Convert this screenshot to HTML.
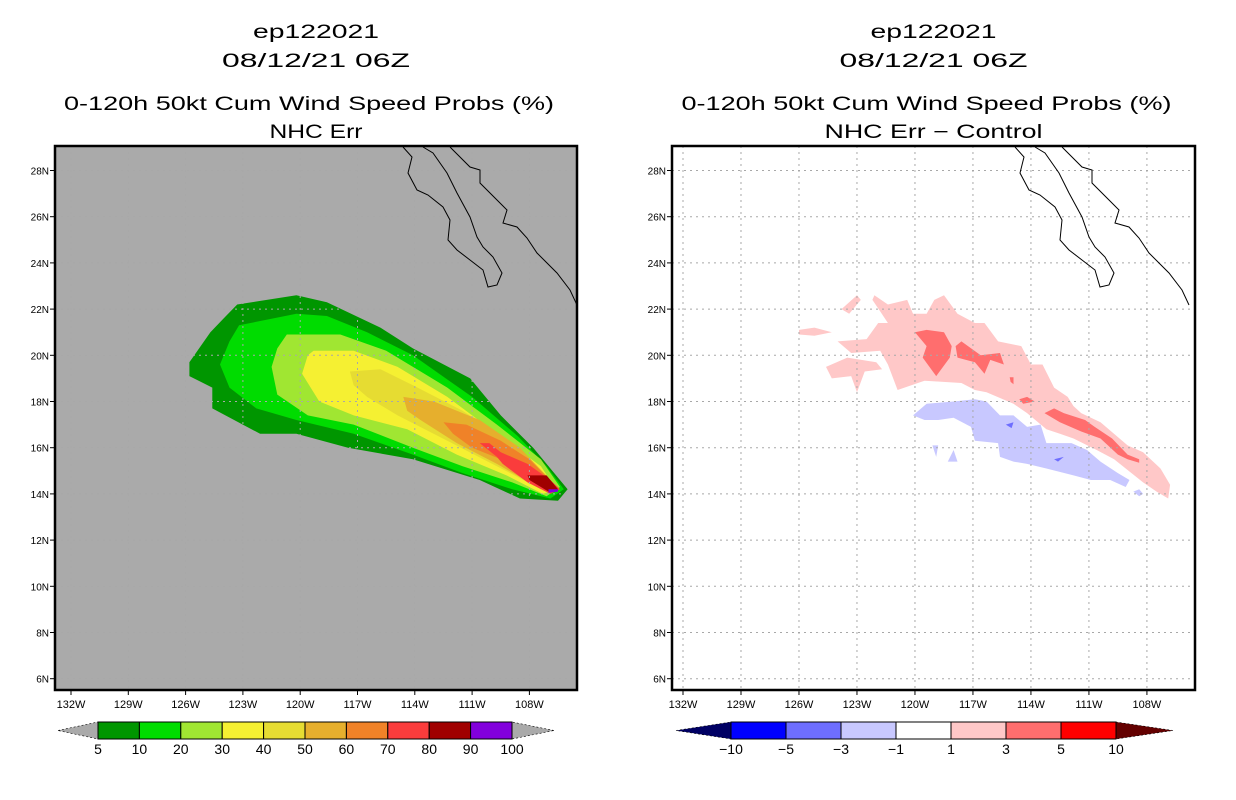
<!DOCTYPE html>
<html><head><meta charset="utf-8">
<style>
html,body{margin:0;padding:0;background:#fff;}
svg{display:block;font-family:"Liberation Sans",sans-serif;}
</style></head>
<body>
<svg id="fig" width="1236" height="800" viewBox="0 0 1236 800" xmlns="http://www.w3.org/2000/svg"></svg>
<script>
// ---------- data ----------
const lonTicks = [132,129,126,123,120,117,114,111,108];
const latTicks = [28,26,24,22,20,18,16,14,12,10,8,6];
const probLevels = ['5','10','20','30','40','50','60','70','80','90','100'];
const probColors = ['#009600','#00dc00','#a0e632','#f5f032','#e6dc32','#e6af2d','#f08228','#fa3c3c','#a00000','#8200dc'];
const diffLevels = ['\u221210','\u22125','\u22123','\u22121','1','3','5','10'];
const diffColors = ['#0000ff','#6e6eff','#c8c8ff','#ffffff','#ffc8c8','#ff6e6e','#ff0000'];
// probability contours (lon W, lat N)
const p5 = [[123.3,22.2],[120.2,22.6],[118.6,22.3],[115.8,21.2],[114.1,20.3],[111.1,19.0],[109.5,17.4],[107.8,16.0],[106.9,15.1],[106.0,14.2],[106.5,13.7],[108.5,13.8],[110.6,14.6],[114.1,15.5],[117.5,16.0],[120.2,16.6],[122.1,16.6],[124.6,17.7],[124.6,18.6],[125.8,19.1],[125.8,19.7],[124.7,21.0],[124.0,21.6]];
const p10 = [[123.2,21.3],[120.2,21.8],[118.6,21.7],[116.5,21.0],[114.1,20.0],[111.0,18.2],[108.6,16.5],[107.1,15.2],[106.2,14.2],[106.9,13.8],[108.9,14.2],[111.5,14.9],[114.1,15.7],[117.2,16.6],[120.2,17.2],[122.3,17.7],[123.7,18.6],[124.2,19.6],[123.7,20.6]];
const p20 = [[120.7,20.9],[117.9,20.9],[115.5,20.2],[112.3,18.6],[109.7,17.0],[107.4,15.5],[106.4,14.3],[107.1,13.9],[108.9,14.5],[111.5,15.2],[114.1,16.0],[117.2,17.0],[119.6,17.4],[121.2,18.3],[121.5,19.5],[121.2,20.3]];
const p30 = [[119.3,20.2],[117.2,20.2],[114.9,19.5],[112.3,18.2],[109.7,16.6],[107.4,15.2],[106.6,14.2],[107.3,14.0],[109.2,14.8],[111.8,15.7],[114.4,16.8],[117.2,17.4],[119.0,18.0],[119.9,19.2],[119.6,20.0]];
const p40 = [[117.4,19.3],[115.8,19.4],[114.1,18.7],[111.5,17.6],[108.9,16.2],[107.1,14.8],[106.8,14.2],[107.4,14.2],[109.7,15.2],[112.3,16.3],[114.9,17.4],[116.5,18.2],[117.2,18.7]];
const p50 = [[114.6,18.2],[113.0,18.0],[110.6,17.2],[108.5,16.0],[106.9,14.6],[106.6,14.2],[107.4,14.2],[109.7,15.3],[111.8,16.2],[113.7,17.2],[114.4,17.6]];
const p60 = [[112.5,17.1],[111.3,17.0],[109.5,16.3],[108.0,15.5],[106.8,14.5],[106.9,14.1],[108.1,14.6],[109.5,15.5],[111.0,16.0],[112.0,16.6]];
const p70 = [[110.6,16.2],[110.1,16.2],[109.5,15.8],[108.1,15.3],[106.9,14.6],[106.4,14.2],[106.9,14.0],[108.1,14.5],[109.4,15.3],[109.7,15.6]];
const p80 = [[108.1,14.8],[107.1,14.8],[106.5,14.2],[107.0,14.1],[108.0,14.6]];
const p90 = [[107.0,14.2],[106.5,14.2],[106.5,14.1],[107.0,14.05]];
const probPolys = [p5,p10,p20,p30,p40,p50,p60,p70,p80,p90];
// difference contours
const dPink1 = [[122.1,22.6],[121.4,22.2],[120.4,22.4],[120.1,21.8],[119.4,21.8],[119.0,22.4],[118.5,22.6],[117.8,21.8],[116.9,21.4],[116.4,21.4],[115.7,20.6],[114.5,20.4],[114.0,19.6],[113.4,19.6],[112.8,18.6],[112.1,18.2],[111.8,17.8],[111.4,17.5],[110.4,17.1],[109.0,16.1],[108.2,15.8],[107.3,15.1],[106.8,14.4],[106.9,13.8],[107.5,14.1],[108.2,14.5],[108.8,14.9],[109.7,15.5],[110.6,15.9],[111.8,16.4],[112.5,16.6],[113.2,16.8],[114.2,17.5],[114.9,17.9],[116.3,18.4],[116.9,18.5],[117.6,18.8],[119.5,18.9],[120.9,18.5],[121.4,19.6],[121.8,20.2],[123.3,20.1],[124.0,20.6],[122.5,20.7],[121.9,21.4],[121.4,21.4],[121.8,21.9],[122.2,22.4]];
const dPink2 = [[126.0,21.1],[125.2,21.2],[124.3,21.0],[125.2,20.85],[126.0,20.9]];
const dPink3 = [[123.8,22.0],[123.0,22.6],[122.8,22.4],[123.4,21.8]];
const dPink4 = [[124.6,19.5],[123.5,19.9],[122.0,19.7],[121.7,19.4],[122.6,19.3],[123.0,18.4],[123.3,19.1],[124.3,19.0]];
const dRed1 = [[120.0,21.0],[119.4,21.1],[118.5,21.0],[118.1,20.4],[118.2,19.9],[118.9,19.1],[119.6,19.9],[119.4,20.4]];
const dRed2 = [[117.9,20.4],[117.6,20.6],[116.6,20.0],[115.6,20.1],[115.4,19.6],[116.1,19.8],[116.4,19.2],[116.9,19.7],[117.8,19.9]];
const dRed3 = [[113.3,17.5],[112.8,17.7],[112.3,17.5],[111.2,17.2],[110.7,16.9],[109.8,16.4],[109.0,15.7],[108.4,15.5],[108.4,15.35],[109.0,15.5],[109.5,15.7],[110.4,16.4],[111.4,16.7],[112.5,17.1]];
const dRed4 = [[114.6,18.1],[114.2,18.2],[113.8,18.0],[114.4,17.9]];
const dRed5 = [[115.1,19.05],[114.9,19.05],[114.9,18.75],[115.05,18.85]];
const dBlue1 = [[120.1,17.4],[119.4,17.9],[118.0,18.0],[116.9,18.1],[116.3,18.0],[115.6,17.4],[114.9,17.4],[114.2,16.9],[113.5,17.0],[113.2,16.2],[111.9,16.2],[111.1,15.9],[110.4,15.4],[109.5,14.9],[108.9,14.6],[109.1,14.3],[109.9,14.6],[110.9,14.6],[111.8,14.8],[113.2,15.1],[114.2,15.3],[114.9,15.4],[115.6,15.6],[115.7,16.2],[116.9,16.3],[117.1,16.9],[118.0,17.3],[118.8,17.2],[119.5,17.2]];
const dBlue2 = [[119.1,16.1],[118.8,16.1],[118.9,15.6]];
const dBlue3 = [[118.0,15.9],[117.8,15.4],[118.3,15.4]];
const dBlue4 = [[108.7,14.1],[108.4,14.2],[108.2,14.0],[108.4,13.9]];
const dBlueD1 = [[115.3,17.0],[114.9,17.1],[115.0,16.85]];
const dBlueD2 = [[112.8,15.5],[112.3,15.6],[112.6,15.4]];
const diffPolys = [[dPink1,'#ffc8c8'],[dPink2,'#ffc8c8'],[dPink3,'#ffc8c8'],[dPink4,'#ffc8c8'],[dRed1,'#ff6e6e'],[dRed2,'#ff6e6e'],[dRed3,'#ff6e6e'],[dRed4,'#ff6e6e'],[dRed5,'#ff6e6e'],[dBlue1,'#c8c8ff'],[dBlue2,'#c8c8ff'],[dBlue3,'#c8c8ff'],[dBlue4,'#c8c8ff'],[dBlueD1,'#6e6eff'],[dBlueD2,'#6e6eff']];
// coastline (pixel offsets relative to left panel)
const coastPen = [[403,147],[412,157],[408,173],[417,190],[428,195],[443,207],[450,220],[448,240],[457,250],[470,260],[483,270],[488,287],[497,285],[502,273],[493,257],[483,247],[477,237],[470,217],[457,193],[447,173],[433,153],[423,147]];
const coastMain = [[450,147],[470,167],[480,170],[480,183],[497,200],[507,210],[503,223],[517,227],[527,238],[537,253],[557,273],[570,290],[577,305]];

// ---------- drawing ----------
const NS='http://www.w3.org/2000/svg';
const svg=document.getElementById('fig');
function mk(tag,attrs,parent){const e=document.createElementNS(NS,tag);for(const k in attrs)e.setAttribute(k,attrs[k]);(parent||svg).appendChild(e);return e;}
function txt(s,x,y,size,anchor,len,parent){const t=mk('text',{x:x,y:y,'font-size':size,'text-anchor':anchor||'middle',fill:'#000'},parent);if(len){t.setAttribute('textLength',len);t.setAttribute('lengthAdjust','spacingAndGlyphs');}t.textContent=s;return t;}

const panels=[
 {x0:55,x1:577,lon0:71,lonScale:19.1,title2:'NHC Err',bg:'#aaaaaa',name:'left',t2len:93},
 {x0:672,x1:1195,lon0:683,lonScale:19.33,title2:'NHC Err \u2212 Control',bg:'#ffffff',name:'right',t2len:218}
];
const y0=146,y1=690;
function yOf(lat){return 170.5+(28-lat)*23.1;}

panels.forEach((p,pi)=>{
  const xOf=lon=>p.lon0+(132-lon)*p.lonScale;
  const g=mk('g',{});
  
  
  const cx=(p.x0+p.x1)/2;
  const t1=txt('ep122021',cx,38,19,'middle',126,g);
  
  const t2=txt('08/12/21 06Z',cx,67,19,'middle',188,g);
  
  const t3=txt('0-120h 50kt Cum Wind Speed Probs (%)',cx-7,110,19,'middle',490,g);
  
  const t4=txt(p.title2,cx,138,19,'middle',p.t2len,g);
  

  const clipId='clip'+pi;
  const cp=mk('clipPath',{id:clipId},g);mk('rect',{x:p.x0,y:y0,width:p.x1-p.x0,height:y1-y0},cp);
  const bg=mk('rect',{x:p.x0,y:y0,width:p.x1-p.x0,height:y1-y0,fill:p.bg},g);
  
  const mg=mk('g',{'clip-path':'url(#'+clipId+')'},g);
  const poly=(pts,fill)=>{const e=mk('polygon',{points:pts.map(q=>xOf(q[0]).toFixed(1)+','+yOf(q[1]).toFixed(1)).join(' '),fill:fill},mg);return e;};
  if(pi===0){
    probPolys.forEach((pts,i)=>{const e=poly(pts,probColors[i]);
      
      });
  }else{
    diffPolys.forEach((d,i)=>{const e=poly(d[0],d[1]);
      
      });
  }
  // grid
  const gg=mk('g',{stroke:'#a8a8a8','stroke-width':1,'stroke-dasharray':'2,4'},mg);
  
  lonTicks.forEach(l=>mk('line',{x1:xOf(l),x2:xOf(l),y1:y0,y2:y1},gg));
  latTicks.forEach(l=>mk('line',{x1:p.x0,x2:p.x1,y1:yOf(l),y2:yOf(l)},gg));
  // coast
  const dx=p.lon0-71;
  const cg=mk('g',{fill:'none',stroke:'#000','stroke-width':1},mg);
  
  [coastPen,coastMain].forEach(c=>mk('polyline',{points:c.map(q=>(q[0]+dx)+','+q[1]).join(' ')},cg));
  // frame
  const fr=mk('rect',{x:p.x0,y:y0,width:p.x1-p.x0,height:y1-y0,fill:'none',stroke:'#000','stroke-width':2.5},g);
  
  // ticks
  lonTicks.forEach(l=>{const x=xOf(l);mk('line',{x1:x,x2:x,y1:y1,y2:y1+5,stroke:'#000'},g);
    const t=txt(l+'W',x,708,11,'middle',null,g);
    });
  latTicks.forEach(l=>{const y=yOf(l);mk('line',{x1:p.x0-5,x2:p.x0,y1:y,y2:y,stroke:'#000'},g);
    const t=txt(l+'N',p.x0-6,y+4,10,'end',null,g);
    });
});

// colorbars
function colorbar(xa,xb,tipL,tipR,colors,labels,lowColor,highColor,name){
  const g=mk('g',{});
  
  
  const ya=722,yb=739,ym=730.5;
  const w=(xb-xa)/colors.length;
  mk('polygon',{points:`${tipL},${ym} ${xa},${ya} ${xa},${yb}`,fill:lowColor,stroke:'#000','stroke-width':0.6,'stroke-dasharray':'2,2'},g);
  mk('polygon',{points:`${tipR},${ym} ${xb},${ya} ${xb},${yb}`,fill:highColor,stroke:'#000','stroke-width':0.6,'stroke-dasharray':'2,2'},g);
  colors.forEach((c,i)=>{const r=mk('rect',{x:xa+i*w,y:ya,width:w,height:yb-ya,fill:c,stroke:'#000','stroke-width':1},g);
    });
  labels.forEach((s,i)=>{const t=txt(s,xa+i*w,754,14,'middle',null,g);
    });
}
colorbar(98,512,58,554,probColors,probLevels,'#aaaaaa','#aaaaaa','prob-colorbar');
colorbar(731,1116,676,1173,diffColors,diffLevels,'#000064','#640000','diff-colorbar');
</script>
</body></html>
